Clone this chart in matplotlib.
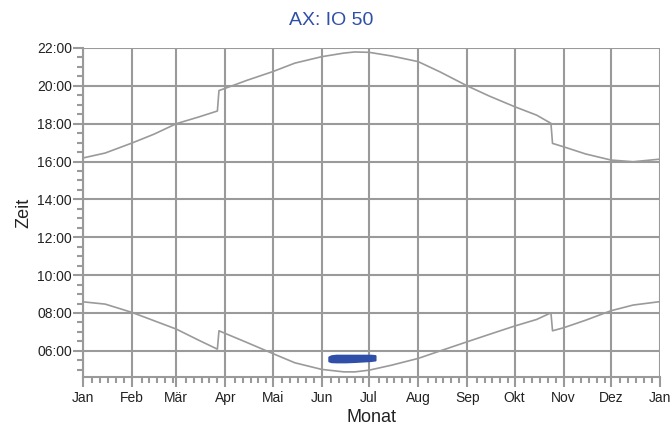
import matplotlib
matplotlib.use("Agg")
import matplotlib.pyplot as plt
from matplotlib.ticker import FixedLocator, FuncFormatter, MultipleLocator

plt.rcParams["font.family"] = ["Liberation Sans", "DejaVu Sans"]

# day of year (0 = 1 Jan), non-leap year
month_days = [0, 31, 59, 90, 120, 151, 181, 212, 243, 273, 304, 334, 365]
month_labels = ["Jan", "Feb", "Mär", "Apr", "Mai", "Jun", "Jul",
                "Aug", "Sep", "Okt", "Nov", "Dez", "Jan"]

# sunset / sunrise in local time (hours)
sun_day = [0, 14, 31, 45, 59, 73, 85, 86, 90, 104, 120, 134, 151, 165, 172,
           181, 195, 212, 226, 243, 257, 273, 287, 296, 297, 304, 318, 334, 348, 364]
sunset = [16.19, 16.45, 16.98, 17.45, 18.00, 18.35, 18.67, 19.75, 19.87, 20.30,
          20.75, 21.20, 21.54, 21.73, 21.79, 21.77, 21.58, 21.28, 20.73, 20.00,
          19.46, 18.90, 18.45, 18.02, 16.96, 16.78, 16.40, 16.08, 15.99, 16.12]
sunrise = [8.59, 8.47, 8.03, 7.59, 7.15, 6.57, 6.09, 7.06, 6.92, 6.43,
           5.86, 5.37, 5.02, 4.89, 4.89, 4.98, 5.24, 5.60, 6.00, 6.48,
           6.87, 7.31, 7.66, 8.01, 7.06, 7.22, 7.62, 8.12, 8.42, 8.59]

# shadow period for IO 50 (begin / end, hours)
shadow_day = [155.5, 157, 160, 166, 172, 178, 182, 184.7]
shadow_begin = [5.47, 5.43, 5.42, 5.42, 5.44, 5.47, 5.49, 5.52]
shadow_end = [5.68, 5.74, 5.77, 5.77, 5.77, 5.77, 5.77, 5.75]

grey = "#9a9a9a"
blue = "#2f4fa8"

fig = plt.figure(figsize=(6.7, 4.28), dpi=100)
ax = fig.add_axes([0.1239, 0.1192, 0.8612, 0.7687])

ax.plot(sun_day, sunset, color=grey, lw=1.2, zorder=3)
ax.plot(sun_day, sunrise, color=grey, lw=1.2, zorder=3)
ax.fill_between(shadow_day, shadow_begin, shadow_end, color=blue, lw=1.5,
                edgecolor=blue, zorder=4)

ax.set_xlim(0, 365)
ax.set_ylim(4.62, 22.0)

ax.xaxis.set_major_locator(FixedLocator(month_days))
ax.set_xticklabels(month_labels)
minor_x = [m + o for m in month_days[:-1] for o in (6, 11, 16, 21, 26)]
ax.xaxis.set_minor_locator(FixedLocator(minor_x))

ax.yaxis.set_major_locator(MultipleLocator(2))
ax.yaxis.set_minor_locator(MultipleLocator(0.5))
ax.yaxis.set_major_formatter(FuncFormatter(lambda v, p: "%02d:00" % int(round(v))))

ax.grid(True, which="major", color=grey, lw=1.5)
ax.set_axisbelow(True)
for s in ("top", "right"):
    ax.spines[s].set_visible(False)
for s in ("left", "bottom"):
    ax.spines[s].set_color(grey)
    ax.spines[s].set_linewidth(1.5)

ax.tick_params(which="major", length=7, width=1.5, color=grey,
               labelsize=10, labelcolor="#222222", pad=1)
ax.tick_params(axis="x", which="major", pad=3)
ax.tick_params(which="minor", length=4, width=1.5, color=grey)

ax.set_xlabel("Monat", fontsize=13, color="#222222", labelpad=3)
ax.set_ylabel("Zeit", fontsize=13, color="#222222", labelpad=3)
fig.text(0.495, 0.953, "AX: IO 50", ha="center", va="center",
         fontsize=14, color=blue)

fig.savefig("out.png", dpi=100)
